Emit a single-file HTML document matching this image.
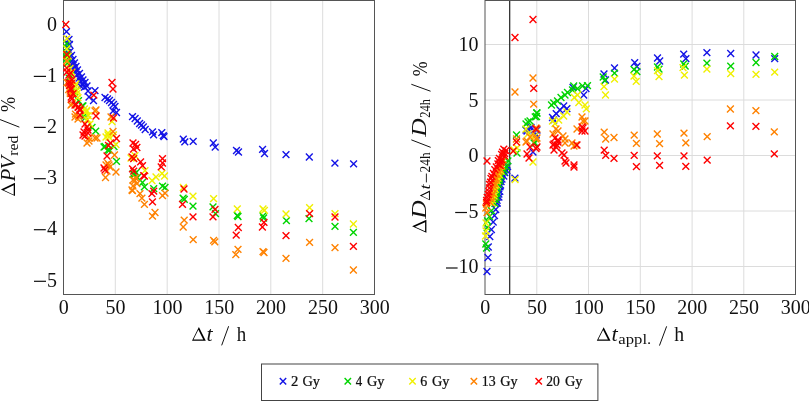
<!DOCTYPE html>
<html><head><meta charset="utf-8"><style>
html,body{margin:0;padding:0;background:#fff;}
body{width:809px;height:401px;overflow:hidden;position:relative;font-family:"Liberation Serif",serif;}
svg{position:absolute;left:0;top:0;will-change:transform;}
text{font-family:"Liberation Serif",serif;fill:#111;}
</style></head><body>
<svg width="809" height="401" viewBox="0 0 809 401">
<g stroke="#dcdcdc" stroke-width="1"><line x1="115.3" y1="0.5" x2="115.3" y2="294" /><line x1="167.2" y1="0.5" x2="167.2" y2="294" /><line x1="219.0" y1="0.5" x2="219.0" y2="294" /><line x1="270.8" y1="0.5" x2="270.8" y2="294" /><line x1="322.7" y1="0.5" x2="322.7" y2="294" /><line x1="536.8" y1="0.5" x2="536.8" y2="294" /><line x1="588.5" y1="0.5" x2="588.5" y2="294" /><line x1="640.3" y1="0.5" x2="640.3" y2="294" /><line x1="692.1" y1="0.5" x2="692.1" y2="294" /><line x1="743.8" y1="0.5" x2="743.8" y2="294" /><line x1="485" y1="44.5" x2="795.5" y2="44.5" /><line x1="485" y1="100.0" x2="795.5" y2="100.0" /><line x1="485" y1="155.5" x2="795.5" y2="155.5" /><line x1="485" y1="211.0" x2="795.5" y2="211.0" /><line x1="485" y1="266.5" x2="795.5" y2="266.5" /></g>
<line x1="509.7" y1="0.5" x2="509.7" y2="294.5" stroke="#222" stroke-width="1.2"/>
<rect x="63.5" y="0.5" width="311" height="294" fill="none" stroke="#555" stroke-width="1"/>
<rect x="485" y="0.5" width="310.5" height="294" fill="none" stroke="#555" stroke-width="1"/>
<g fill="none" stroke-width="1.4"><path d="M63.1 28.3L69.9 35.1M63.1 35.1L69.9 28.3" stroke="#1414e6"/><path d="M65.6 36.1L72.4 42.9M65.6 42.9L72.4 36.1" stroke="#1414e6"/><path d="M64.2 40.1L71.0 46.9M64.2 46.9L71.0 40.1" stroke="#1414e6"/><path d="M66.1 41.1L72.9 47.9M66.1 47.9L72.9 41.1" stroke="#1414e6"/><path d="M64.6 44.6L71.4 51.4M64.6 51.4L71.4 44.6" stroke="#1414e6"/><path d="M66.6 48.1L73.4 54.9M66.6 54.9L73.4 48.1" stroke="#1414e6"/><path d="M68.1 52.1L74.9 58.9M68.1 58.9L74.9 52.1" stroke="#1414e6"/><path d="M69.6 56.1L76.4 62.9M69.6 62.9L76.4 56.1" stroke="#1414e6"/><path d="M71.1 59.6L77.9 66.4M71.1 66.4L77.9 59.6" stroke="#1414e6"/><path d="M72.6 63.1L79.4 69.9M72.6 69.9L79.4 63.1" stroke="#1414e6"/><path d="M74.1 66.6L80.9 73.4M74.1 73.4L80.9 66.6" stroke="#1414e6"/><path d="M76.1 70.1L82.9 76.9M76.1 76.9L82.9 70.1" stroke="#1414e6"/><path d="M78.1 73.6L84.9 80.4M78.1 80.4L84.9 73.6" stroke="#1414e6"/><path d="M79.6 76.6L86.4 83.4M79.6 83.4L86.4 76.6" stroke="#1414e6"/><path d="M81.6 79.1L88.4 85.9M81.6 85.9L88.4 79.1" stroke="#1414e6"/><path d="M79.6 81.6L86.4 88.4M79.6 88.4L86.4 81.6" stroke="#1414e6"/><path d="M83.6 82.6L90.4 89.4M83.6 89.4L90.4 82.6" stroke="#1414e6"/><path d="M84.6 87.6L91.4 94.4M84.6 94.4L91.4 87.6" stroke="#1414e6"/><path d="M91.6 87.3L98.4 94.1M91.6 94.1L98.4 87.3" stroke="#1414e6"/><path d="M90.1 97.1L96.9 103.9M90.1 103.9L96.9 97.1" stroke="#1414e6"/><path d="M101.6 94.1L108.4 100.9M101.6 100.9L108.4 94.1" stroke="#1414e6"/><path d="M104.1 95.6L110.9 102.4M104.1 102.4L110.9 95.6" stroke="#1414e6"/><path d="M106.1 97.1L112.9 103.9M106.1 103.9L112.9 97.1" stroke="#1414e6"/><path d="M108.1 99.1L114.9 105.9M108.1 105.9L114.9 99.1" stroke="#1414e6"/><path d="M110.1 101.1L116.9 107.9M110.1 107.9L116.9 101.1" stroke="#1414e6"/><path d="M111.6 103.1L118.4 109.9M111.6 109.9L118.4 103.1" stroke="#1414e6"/><path d="M109.6 107.6L116.4 114.4M109.6 114.4L116.4 107.6" stroke="#1414e6"/><path d="M113.1 109.1L119.9 115.9M113.1 115.9L119.9 109.1" stroke="#1414e6"/><path d="M129.1 113.2L135.9 120.0M129.1 120.0L135.9 113.2" stroke="#1414e6"/><path d="M131.7 115.1L138.5 121.9M131.7 121.9L138.5 115.1" stroke="#1414e6"/><path d="M133.9 117.6L140.7 124.4M133.9 124.4L140.7 117.6" stroke="#1414e6"/><path d="M136.2 120.1L143.0 126.9M136.2 126.9L143.0 120.1" stroke="#1414e6"/><path d="M138.1 121.6L144.9 128.4M138.1 128.4L144.9 121.6" stroke="#1414e6"/><path d="M139.9 123.6L146.7 130.4M139.9 130.4L146.7 123.6" stroke="#1414e6"/><path d="M141.8 126.1L148.6 132.9M141.8 132.9L148.6 126.1" stroke="#1414e6"/><path d="M149.1 128.4L155.9 135.2M149.1 135.2L155.9 128.4" stroke="#1414e6"/><path d="M150.2 131.4L157.0 138.2M150.2 138.2L157.0 131.4" stroke="#1414e6"/><path d="M158.4 129.2L165.2 136.0M158.4 136.0L165.2 129.2" stroke="#1414e6"/><path d="M159.9 132.2L166.7 139.0M159.9 139.0L166.7 132.2" stroke="#1414e6"/><path d="M160.6 133.3L167.4 140.1M160.6 140.1L167.4 133.3" stroke="#1414e6"/><path d="M179.9 135.8L186.7 142.6M179.9 142.6L186.7 135.8" stroke="#1414e6"/><path d="M181.4 138.4L188.2 145.2M181.4 145.2L188.2 138.4" stroke="#1414e6"/><path d="M189.8 137.9L196.6 144.7M189.8 144.7L196.6 137.9" stroke="#1414e6"/><path d="M209.9 139.6L216.7 146.4M209.9 146.4L216.7 139.6" stroke="#1414e6"/><path d="M211.8 143.8L218.6 150.6M211.8 150.6L218.6 143.8" stroke="#1414e6"/><path d="M233.1 147.1L239.9 153.9M233.1 153.9L239.9 147.1" stroke="#1414e6"/><path d="M235.1 148.6L241.9 155.4M235.1 155.4L241.9 148.6" stroke="#1414e6"/><path d="M259.2 146.0L266.0 152.8M259.2 152.8L266.0 146.0" stroke="#1414e6"/><path d="M261.1 150.1L267.9 156.9M261.1 156.9L267.9 150.1" stroke="#1414e6"/><path d="M282.6 151.2L289.4 158.0M282.6 158.0L289.4 151.2" stroke="#1414e6"/><path d="M305.9 153.6L312.7 160.4M305.9 160.4L312.7 153.6" stroke="#1414e6"/><path d="M331.5 159.8L338.3 166.6M331.5 166.6L338.3 159.8" stroke="#1414e6"/><path d="M350.2 160.5L357.0 167.3M350.2 167.3L357.0 160.5" stroke="#1414e6"/><path d="M64.1 49.3L70.9 56.1M64.1 56.1L70.9 49.3" stroke="#1414e6"/><path d="M65.6 53.3L72.4 60.1M65.6 60.1L72.4 53.3" stroke="#1414e6"/><path d="M67.1 57.3L73.9 64.1M67.1 64.1L73.9 57.3" stroke="#1414e6"/><path d="M68.6 60.8L75.4 67.6M68.6 67.6L75.4 60.8" stroke="#1414e6"/><path d="M70.1 64.3L76.9 71.1M70.1 71.1L76.9 64.3" stroke="#1414e6"/><path d="M71.6 67.8L78.4 74.6M71.6 74.6L78.4 67.8" stroke="#1414e6"/><path d="M73.6 71.3L80.4 78.1M73.6 78.1L80.4 71.3" stroke="#1414e6"/><path d="M75.6 74.8L82.4 81.6M75.6 81.6L82.4 74.8" stroke="#1414e6"/><path d="M77.1 77.8L83.9 84.6M77.1 84.6L83.9 77.8" stroke="#1414e6"/><path d="M79.1 80.3L85.9 87.1M79.1 87.1L85.9 80.3" stroke="#1414e6"/><path d="M77.1 82.8L83.9 89.6M77.1 89.6L83.9 82.8" stroke="#1414e6"/><path d="M81.1 83.8L87.9 90.6M81.1 90.6L87.9 83.8" stroke="#1414e6"/><path d="M85.6 93.6L92.4 100.4M85.6 100.4L92.4 93.6" stroke="#1414e6"/><path d="M71.6 88.3L78.4 95.1M71.6 95.1L78.4 88.3" stroke="#00d400"/><path d="M75.1 97.3L81.9 104.1M75.1 104.1L81.9 97.3" stroke="#00d400"/><path d="M78.8 102.6L85.6 109.4M78.8 109.4L85.6 102.6" stroke="#00d400"/><path d="M81.0 112.3L87.8 119.1M81.0 119.1L87.8 112.3" stroke="#00d400"/><path d="M63.4 40.4L70.2 47.2M63.4 47.2L70.2 40.4" stroke="#00d400"/><path d="M63.4 44.6L70.2 51.4M63.4 51.4L70.2 44.6" stroke="#00d400"/><path d="M63.4 52.8L70.2 59.6M63.4 59.6L70.2 52.8" stroke="#00d400"/><path d="M63.4 50.1L70.2 56.9M63.4 56.9L70.2 50.1" stroke="#00d400"/><path d="M63.4 55.1L70.2 61.9M63.4 61.9L70.2 55.1" stroke="#00d400"/><path d="M64.1 59.6L70.9 66.4M64.1 66.4L70.9 59.6" stroke="#00d400"/><path d="M65.8 74.7L72.6 81.5M65.8 81.5L72.6 74.7" stroke="#00d400"/><path d="M67.2 72.2L74.0 79.0M67.2 79.0L74.0 72.2" stroke="#00d400"/><path d="M70.3 84.7L77.1 91.5M70.3 91.5L77.1 84.7" stroke="#00d400"/><path d="M71.0 88.5L77.8 95.3M71.0 95.3L77.8 88.5" stroke="#00d400"/><path d="M79.6 102.6L86.4 109.4M79.6 109.4L86.4 102.6" stroke="#00d400"/><path d="M81.6 114.6L88.4 121.4M81.6 121.4L88.4 114.6" stroke="#00d400"/><path d="M100.6 143.6L107.4 150.4M100.6 150.4L107.4 143.6" stroke="#00d400"/><path d="M104.6 146.6L111.4 153.4M104.6 153.4L111.4 146.6" stroke="#00d400"/><path d="M101.6 143.1L108.4 149.9M101.6 149.9L108.4 143.1" stroke="#00d400"/><path d="M106.1 146.6L112.9 153.4M106.1 153.4L112.9 146.6" stroke="#00d400"/><path d="M110.6 143.1L117.4 149.9M110.6 149.9L117.4 143.1" stroke="#00d400"/><path d="M129.6 170.6L136.4 177.4M129.6 177.4L136.4 170.6" stroke="#00d400"/><path d="M132.8 169.1L139.6 175.9M132.8 175.9L139.6 169.1" stroke="#00d400"/><path d="M131.0 171.0L137.8 177.8M131.0 177.8L137.8 171.0" stroke="#00d400"/><path d="M134.1 174.1L140.9 180.9M134.1 180.9L140.9 174.1" stroke="#00d400"/><path d="M139.1 179.1L145.9 185.9M139.1 185.9L145.9 179.1" stroke="#00d400"/><path d="M141.0 183.5L147.8 190.3M141.0 190.3L147.8 183.5" stroke="#00d400"/><path d="M150.3 185.3L157.1 192.1M150.3 192.1L157.1 185.3" stroke="#00d400"/><path d="M159.1 182.8L165.9 189.6M159.1 189.6L165.9 182.8" stroke="#00d400"/><path d="M161.6 184.1L168.4 190.9M161.6 190.9L168.4 184.1" stroke="#00d400"/><path d="M179.7 194.7L186.5 201.5M179.7 201.5L186.5 194.7" stroke="#00d400"/><path d="M180.9 195.9L187.7 202.7M180.9 202.7L187.7 195.9" stroke="#00d400"/><path d="M189.6 202.8L196.4 209.6M189.6 209.6L196.4 202.8" stroke="#00d400"/><path d="M209.6 203.4L216.4 210.2M209.6 210.2L216.4 203.4" stroke="#00d400"/><path d="M212.1 210.2L218.9 217.0M212.1 217.0L218.9 210.2" stroke="#00d400"/><path d="M233.9 212.1L240.7 218.9M233.9 218.9L240.7 212.1" stroke="#00d400"/><path d="M234.6 213.1L241.4 219.9M234.6 219.9L241.4 213.1" stroke="#00d400"/><path d="M259.6 212.6L266.4 219.4M259.6 219.4L266.4 212.6" stroke="#00d400"/><path d="M260.2 214.6L267.0 221.4M260.2 221.4L267.0 214.6" stroke="#00d400"/><path d="M283.0 217.2L289.8 224.0M283.0 224.0L289.8 217.2" stroke="#00d400"/><path d="M305.6 215.2L312.4 222.0M305.6 222.0L312.4 215.2" stroke="#00d400"/><path d="M331.6 223.0L338.4 229.8M331.6 229.8L338.4 223.0" stroke="#00d400"/><path d="M350.0 229.0L356.8 235.8M350.0 235.8L356.8 229.0" stroke="#00d400"/><path d="M88.6 124.1L95.4 130.9M88.6 130.9L95.4 124.1" stroke="#00d400"/><path d="M92.3 127.8L99.1 134.6M92.3 134.6L99.1 127.8" stroke="#00d400"/><path d="M113.1 157.9L119.9 164.7M113.1 164.7L119.9 157.9" stroke="#00d400"/><path d="M73.8 89.8L80.6 96.6M73.8 96.6L80.6 89.8" stroke="#f0f000"/><path d="M74.6 94.3L81.4 101.1M74.6 101.1L81.4 94.3" stroke="#f0f000"/><path d="M83.3 107.0L90.1 113.8M83.3 113.8L90.1 107.0" stroke="#f0f000"/><path d="M81.0 105.6L87.8 112.4M81.0 112.4L87.8 105.6" stroke="#f0f000"/><path d="M72.6 80.6L79.4 87.4M72.6 87.4L79.4 80.6" stroke="#f0f000"/><path d="M63.5 35.2L70.3 42.0M63.5 42.0L70.3 35.2" stroke="#f0f000"/><path d="M63.4 45.6L70.2 52.4M63.4 52.4L70.2 45.6" stroke="#f0f000"/><path d="M65.0 52.8L71.8 59.6M65.0 59.6L71.8 52.8" stroke="#f0f000"/><path d="M63.6 57.6L70.4 64.4M63.6 64.4L70.4 57.6" stroke="#f0f000"/><path d="M66.6 65.1L73.4 71.9M66.6 71.9L73.4 65.1" stroke="#f0f000"/><path d="M67.2 70.3L74.0 77.1M67.2 77.1L74.0 70.3" stroke="#f0f000"/><path d="M68.5 68.8L75.3 75.6M68.5 75.6L75.3 68.8" stroke="#f0f000"/><path d="M69.7 78.5L76.5 85.3M69.7 85.3L76.5 78.5" stroke="#f0f000"/><path d="M71.6 82.8L78.4 89.6M71.6 89.6L78.4 82.8" stroke="#f0f000"/><path d="M73.5 87.2L80.3 94.0M73.5 94.0L80.3 87.2" stroke="#f0f000"/><path d="M82.6 108.6L89.4 115.4M82.6 115.4L89.4 108.6" stroke="#f0f000"/><path d="M83.6 116.6L90.4 123.4M83.6 123.4L90.4 116.6" stroke="#f0f000"/><path d="M86.6 120.6L93.4 127.4M86.6 127.4L93.4 120.6" stroke="#f0f000"/><path d="M102.6 133.6L109.4 140.4M102.6 140.4L109.4 133.6" stroke="#f0f000"/><path d="M104.6 131.6L111.4 138.4M104.6 138.4L111.4 131.6" stroke="#f0f000"/><path d="M108.6 118.1L115.4 124.9M108.6 124.9L115.4 118.1" stroke="#f0f000"/><path d="M104.6 129.6L111.4 136.4M104.6 136.4L111.4 129.6" stroke="#f0f000"/><path d="M105.6 133.6L112.4 140.4M105.6 140.4L112.4 133.6" stroke="#f0f000"/><path d="M110.1 131.6L116.9 138.4M110.1 138.4L116.9 131.6" stroke="#f0f000"/><path d="M112.6 141.1L119.4 147.9M112.6 147.9L119.4 141.1" stroke="#f0f000"/><path d="M127.6 154.6L134.4 161.4M127.6 161.4L134.4 154.6" stroke="#f0f000"/><path d="M131.6 152.2L138.4 159.0M131.6 159.0L138.4 152.2" stroke="#f0f000"/><path d="M130.3 154.6L137.1 161.4M130.3 161.4L137.1 154.6" stroke="#f0f000"/><path d="M141.6 167.2L148.4 174.0M141.6 174.0L148.4 167.2" stroke="#f0f000"/><path d="M179.9 184.1L186.7 190.9M179.9 190.9L186.7 184.1" stroke="#f0f000"/><path d="M189.6 192.8L196.4 199.6M189.6 199.6L196.4 192.8" stroke="#f0f000"/><path d="M210.2 195.3L217.0 202.1M210.2 202.1L217.0 195.3" stroke="#f0f000"/><path d="M233.9 205.5L240.7 212.3M233.9 212.3L240.7 205.5" stroke="#f0f000"/><path d="M259.6 205.6L266.4 212.4M259.6 212.4L266.4 205.6" stroke="#f0f000"/><path d="M261.0 207.0L267.8 213.8M261.0 213.8L267.8 207.0" stroke="#f0f000"/><path d="M282.6 210.6L289.4 217.4M282.6 217.4L289.4 210.6" stroke="#f0f000"/><path d="M306.2 204.2L313.0 211.0M306.2 211.0L313.0 204.2" stroke="#f0f000"/><path d="M331.6 210.2L338.4 217.0M331.6 217.0L338.4 210.2" stroke="#f0f000"/><path d="M350.0 220.6L356.8 227.4M350.0 227.4L356.8 220.6" stroke="#f0f000"/><path d="M158.6 170.1L165.4 176.9M158.6 176.9L165.4 170.1" stroke="#f0f000"/><path d="M161.1 172.6L167.9 179.4M161.1 179.4L167.9 172.6" stroke="#f0f000"/><path d="M152.6 173.6L159.4 180.4M152.6 180.4L159.4 173.6" stroke="#f0f000"/><path d="M148.6 177.1L155.4 183.9M148.6 183.9L155.4 177.1" stroke="#f0f000"/><path d="M83.1 107.8L89.9 114.6M83.1 114.6L89.9 107.8" stroke="#f0f000"/><path d="M84.8 112.3L91.6 119.1M84.8 119.1L91.6 112.3" stroke="#f0f000"/><path d="M84.3 116.3L91.1 123.1M84.3 123.1L91.1 116.3" stroke="#f0f000"/><path d="M65.3 86.1L72.1 92.9M65.3 92.9L72.1 86.1" stroke="#ff8200"/><path d="M66.8 89.8L73.6 96.6M66.8 96.6L73.6 89.8" stroke="#ff8200"/><path d="M67.6 101.8L74.4 108.6M67.6 108.6L74.4 101.8" stroke="#ff8200"/><path d="M72.1 110.8L78.9 117.6M72.1 117.6L78.9 110.8" stroke="#ff8200"/><path d="M75.1 113.0L81.9 119.8M75.1 119.8L81.9 113.0" stroke="#ff8200"/><path d="M63.4 57.6L70.2 64.4M63.4 64.4L70.2 57.6" stroke="#ff8200"/><path d="M63.6 79.1L70.4 85.9M63.6 85.9L70.4 79.1" stroke="#ff8200"/><path d="M67.2 77.2L74.0 84.0M67.2 84.0L74.0 77.2" stroke="#ff8200"/><path d="M66.7 87.8L73.5 94.6M66.7 94.6L73.5 87.8" stroke="#ff8200"/><path d="M67.2 90.3L74.0 97.1M67.2 97.1L74.0 90.3" stroke="#ff8200"/><path d="M68.6 100.6L75.4 107.4M68.6 107.4L75.4 100.6" stroke="#ff8200"/><path d="M71.6 113.6L78.4 120.4M71.6 120.4L78.4 113.6" stroke="#ff8200"/><path d="M74.6 115.6L81.4 122.4M74.6 122.4L81.4 115.6" stroke="#ff8200"/><path d="M91.6 107.6L98.4 114.4M91.6 114.4L98.4 107.6" stroke="#ff8200"/><path d="M85.6 134.6L92.4 141.4M85.6 141.4L92.4 134.6" stroke="#ff8200"/><path d="M91.6 134.6L98.4 141.4M91.6 141.4L98.4 134.6" stroke="#ff8200"/><path d="M85.6 137.6L92.4 144.4M85.6 144.4L92.4 137.6" stroke="#ff8200"/><path d="M83.6 139.6L90.4 146.4M83.6 146.4L90.4 139.6" stroke="#ff8200"/><path d="M102.6 161.6L109.4 168.4M102.6 168.4L109.4 161.6" stroke="#ff8200"/><path d="M92.6 106.6L99.4 113.4M92.6 113.4L99.4 106.6" stroke="#ff8200"/><path d="M107.6 113.6L114.4 120.4M107.6 120.4L114.4 113.6" stroke="#ff8200"/><path d="M109.6 128.1L116.4 134.9M109.6 134.9L116.4 128.1" stroke="#ff8200"/><path d="M93.6 134.6L100.4 141.4M93.6 141.4L100.4 134.6" stroke="#ff8200"/><path d="M111.1 151.6L117.9 158.4M111.1 158.4L117.9 151.6" stroke="#ff8200"/><path d="M104.6 160.1L111.4 166.9M104.6 166.9L111.4 160.1" stroke="#ff8200"/><path d="M105.6 161.6L112.4 168.4M105.6 168.4L112.4 161.6" stroke="#ff8200"/><path d="M106.6 163.6L113.4 170.4M106.6 170.4L113.4 163.6" stroke="#ff8200"/><path d="M103.6 167.6L110.4 174.4M103.6 174.4L110.4 167.6" stroke="#ff8200"/><path d="M112.6 168.6L119.4 175.4M112.6 175.4L119.4 168.6" stroke="#ff8200"/><path d="M102.1 174.1L108.9 180.9M102.1 180.9L108.9 174.1" stroke="#ff8200"/><path d="M129.6 176.6L136.4 183.4M129.6 183.4L136.4 176.6" stroke="#ff8200"/><path d="M128.6 186.6L135.4 193.4M128.6 193.4L135.4 186.6" stroke="#ff8200"/><path d="M129.6 182.6L136.4 189.4M129.6 189.4L136.4 182.6" stroke="#ff8200"/><path d="M132.2 174.6L139.0 181.4M132.2 181.4L139.0 174.6" stroke="#ff8200"/><path d="M131.6 177.2L138.4 184.0M131.6 184.0L138.4 177.2" stroke="#ff8200"/><path d="M133.5 180.3L140.3 187.1M133.5 187.1L140.3 180.3" stroke="#ff8200"/><path d="M129.1 187.2L135.9 194.0M129.1 194.0L135.9 187.2" stroke="#ff8200"/><path d="M136.6 190.3L143.4 197.1M136.6 197.1L143.4 190.3" stroke="#ff8200"/><path d="M138.5 194.7L145.3 201.5M138.5 201.5L145.3 194.7" stroke="#ff8200"/><path d="M141.0 201.0L147.8 207.8M141.0 207.8L147.8 201.0" stroke="#ff8200"/><path d="M159.1 192.2L165.9 199.0M159.1 199.0L165.9 192.2" stroke="#ff8200"/><path d="M161.6 189.7L168.4 196.5M161.6 196.5L168.4 189.7" stroke="#ff8200"/><path d="M151.6 209.1L158.4 215.9M151.6 215.9L158.4 209.1" stroke="#ff8200"/><path d="M149.1 212.8L155.9 219.6M149.1 219.6L155.9 212.8" stroke="#ff8200"/><path d="M180.8 216.8L187.6 223.6M180.8 223.6L187.6 216.8" stroke="#ff8200"/><path d="M179.8 223.6L186.6 230.4M179.8 230.4L186.6 223.6" stroke="#ff8200"/><path d="M189.8 236.3L196.6 243.1M189.8 243.1L196.6 236.3" stroke="#ff8200"/><path d="M210.2 237.0L217.0 243.8M210.2 243.8L217.0 237.0" stroke="#ff8200"/><path d="M211.4 238.5L218.2 245.3M211.4 245.3L218.2 238.5" stroke="#ff8200"/><path d="M234.6 246.0L241.4 252.8M234.6 252.8L241.4 246.0" stroke="#ff8200"/><path d="M232.4 251.2L239.2 258.0M232.4 258.0L239.2 251.2" stroke="#ff8200"/><path d="M259.6 248.2L266.4 255.0M259.6 255.0L266.4 248.2" stroke="#ff8200"/><path d="M260.6 249.1L267.4 255.9M260.6 255.9L267.4 249.1" stroke="#ff8200"/><path d="M282.6 255.0L289.4 261.8M282.6 261.8L289.4 255.0" stroke="#ff8200"/><path d="M306.2 239.0L313.0 245.8M306.2 245.8L313.0 239.0" stroke="#ff8200"/><path d="M331.6 244.2L338.4 251.0M331.6 251.0L338.4 244.2" stroke="#ff8200"/><path d="M350.0 266.6L356.8 273.4M350.0 273.4L356.8 266.6" stroke="#ff8200"/><path d="M67.6 86.1L74.4 92.9M67.6 92.9L74.4 86.1" stroke="#ff0000"/><path d="M67.8 93.6L74.6 100.4M67.8 100.4L74.6 93.6" stroke="#ff0000"/><path d="M68.3 95.8L75.1 102.6M68.3 102.6L75.1 95.8" stroke="#ff0000"/><path d="M72.8 101.1L79.6 107.9M72.8 107.9L79.6 101.1" stroke="#ff0000"/><path d="M75.1 104.0L81.9 110.8M75.1 110.8L81.9 104.0" stroke="#ff0000"/><path d="M76.6 107.0L83.4 113.8M76.6 113.8L83.4 107.0" stroke="#ff0000"/><path d="M68.6 76.6L75.4 83.4M68.6 83.4L75.4 76.6" stroke="#ff0000"/><path d="M62.4 21.1L69.2 27.9M62.4 27.9L69.2 21.1" stroke="#ff0000"/><path d="M63.4 51.1L70.2 57.9M63.4 57.9L70.2 51.1" stroke="#ff0000"/><path d="M63.4 64.6L70.2 71.4M63.4 71.4L70.2 64.6" stroke="#ff0000"/><path d="M63.6 68.6L70.4 75.4M63.6 75.4L70.4 68.6" stroke="#ff0000"/><path d="M65.5 71.6L72.3 78.4M65.5 78.4L72.3 71.6" stroke="#ff0000"/><path d="M67.3 69.6L74.1 76.4M67.3 76.4L74.1 69.6" stroke="#ff0000"/><path d="M65.5 79.1L72.3 85.9M65.5 85.9L72.3 79.1" stroke="#ff0000"/><path d="M68.0 80.0L74.8 86.8M68.0 86.8L74.8 80.0" stroke="#ff0000"/><path d="M66.1 82.2L72.9 89.0M66.1 89.0L72.9 82.2" stroke="#ff0000"/><path d="M67.3 85.3L74.1 92.1M67.3 92.1L74.1 85.3" stroke="#ff0000"/><path d="M69.7 90.3L76.5 97.1M69.7 97.1L76.5 90.3" stroke="#ff0000"/><path d="M71.6 101.6L78.4 108.4M71.6 108.4L78.4 101.6" stroke="#ff0000"/><path d="M74.6 103.6L81.4 110.4M74.6 110.4L81.4 103.6" stroke="#ff0000"/><path d="M76.6 105.6L83.4 112.4M76.6 112.4L83.4 105.6" stroke="#ff0000"/><path d="M76.6 111.6L83.4 118.4M76.6 118.4L83.4 111.6" stroke="#ff0000"/><path d="M81.6 120.6L88.4 127.4M81.6 127.4L88.4 120.6" stroke="#ff0000"/><path d="M83.6 123.6L90.4 130.4M83.6 130.4L90.4 123.6" stroke="#ff0000"/><path d="M80.6 128.6L87.4 135.4M80.6 135.4L87.4 128.6" stroke="#ff0000"/><path d="M79.6 131.6L86.4 138.4M79.6 138.4L86.4 131.6" stroke="#ff0000"/><path d="M84.6 126.6L91.4 133.4M84.6 133.4L91.4 126.6" stroke="#ff0000"/><path d="M84.6 129.6L91.4 136.4M84.6 136.4L91.4 129.6" stroke="#ff0000"/><path d="M81.6 132.6L88.4 139.4M81.6 139.4L88.4 132.6" stroke="#ff0000"/><path d="M90.4 91.8L97.2 98.6M90.4 98.6L97.2 91.8" stroke="#ff0000"/><path d="M92.6 112.6L99.4 119.4M92.6 119.4L99.4 112.6" stroke="#ff0000"/><path d="M103.6 152.6L110.4 159.4M103.6 159.4L110.4 152.6" stroke="#ff0000"/><path d="M100.6 164.6L107.4 171.4M100.6 171.4L107.4 164.6" stroke="#ff0000"/><path d="M108.6 79.1L115.4 85.9M108.6 85.9L115.4 79.1" stroke="#ff0000"/><path d="M109.6 85.6L116.4 92.4M109.6 92.4L116.4 85.6" stroke="#ff0000"/><path d="M110.1 114.6L116.9 121.4M110.1 121.4L116.9 114.6" stroke="#ff0000"/><path d="M113.1 135.1L119.9 141.9M113.1 141.9L119.9 135.1" stroke="#ff0000"/><path d="M105.1 142.1L111.9 148.9M105.1 148.9L111.9 142.1" stroke="#ff0000"/><path d="M107.1 139.6L113.9 146.4M107.1 146.4L113.9 139.6" stroke="#ff0000"/><path d="M101.6 166.6L108.4 173.4M101.6 173.4L108.4 166.6" stroke="#ff0000"/><path d="M129.6 139.6L136.4 146.4M129.6 146.4L136.4 139.6" stroke="#ff0000"/><path d="M130.1 145.6L136.9 152.4M130.1 152.4L136.9 145.6" stroke="#ff0000"/><path d="M128.6 153.6L135.4 160.4M128.6 160.4L135.4 153.6" stroke="#ff0000"/><path d="M132.2 141.0L139.0 147.8M132.2 147.8L139.0 141.0" stroke="#ff0000"/><path d="M133.5 144.1L140.3 150.9M133.5 150.9L140.3 144.1" stroke="#ff0000"/><path d="M130.3 155.3L137.1 162.1M130.3 162.1L137.1 155.3" stroke="#ff0000"/><path d="M137.2 158.5L144.0 165.3M137.2 165.3L144.0 158.5" stroke="#ff0000"/><path d="M139.1 162.2L145.9 169.0M139.1 169.0L145.9 162.2" stroke="#ff0000"/><path d="M129.1 165.4L135.9 172.2M129.1 172.2L135.9 165.4" stroke="#ff0000"/><path d="M141.0 172.8L147.8 179.6M141.0 179.6L147.8 172.8" stroke="#ff0000"/><path d="M159.1 155.3L165.9 162.1M159.1 162.1L165.9 155.3" stroke="#ff0000"/><path d="M159.1 159.6L165.9 166.4M159.1 166.4L165.9 159.6" stroke="#ff0000"/><path d="M157.8 163.5L164.6 170.3M157.8 170.3L164.6 163.5" stroke="#ff0000"/><path d="M130.3 167.8L137.1 174.6M130.3 174.6L137.1 167.8" stroke="#ff0000"/><path d="M140.3 172.2L147.1 179.0M140.3 179.0L147.1 172.2" stroke="#ff0000"/><path d="M150.3 187.8L157.1 194.6M150.3 194.6L157.1 187.8" stroke="#ff0000"/><path d="M148.5 190.3L155.3 197.1M148.5 197.1L155.3 190.3" stroke="#ff0000"/><path d="M149.1 198.5L155.9 205.3M149.1 205.3L155.9 198.5" stroke="#ff0000"/><path d="M180.6 185.6L187.4 192.4M180.6 192.4L187.4 185.6" stroke="#ff0000"/><path d="M179.1 200.9L185.9 207.7M179.1 207.7L185.9 200.9" stroke="#ff0000"/><path d="M189.6 213.4L196.4 220.2M189.6 220.2L196.4 213.4" stroke="#ff0000"/><path d="M211.6 205.9L218.4 212.7M211.6 212.7L218.4 205.9" stroke="#ff0000"/><path d="M209.6 213.4L216.4 220.2M209.6 220.2L216.4 213.4" stroke="#ff0000"/><path d="M234.9 224.1L241.7 230.9M234.9 230.9L241.7 224.1" stroke="#ff0000"/><path d="M232.8 231.8L239.6 238.6M232.8 238.6L239.6 231.8" stroke="#ff0000"/><path d="M260.6 219.0L267.4 225.8M260.6 225.8L267.4 219.0" stroke="#ff0000"/><path d="M259.0 223.6L265.8 230.4M259.0 230.4L265.8 223.6" stroke="#ff0000"/><path d="M282.6 232.2L289.4 239.0M282.6 239.0L289.4 232.2" stroke="#ff0000"/><path d="M306.2 210.2L313.0 217.0M306.2 217.0L313.0 210.2" stroke="#ff0000"/><path d="M331.6 213.6L338.4 220.4M331.6 220.4L338.4 213.6" stroke="#ff0000"/><path d="M350.0 243.0L356.8 249.8M350.0 249.8L356.8 243.0" stroke="#ff0000"/><path d="M484.6 254.1L491.4 260.9M484.6 260.9L491.4 254.1" stroke="#1414e6"/><path d="M483.6 268.1L490.4 274.9M483.6 274.9L490.4 268.1" stroke="#1414e6"/><path d="M511.5 174.7L518.3 181.5M511.5 181.5L518.3 174.7" stroke="#1414e6"/><path d="M522.6 126.6L529.4 133.4M522.6 133.4L529.4 126.6" stroke="#1414e6"/><path d="M526.6 127.6L533.4 134.4M526.6 134.4L533.4 127.6" stroke="#1414e6"/><path d="M533.6 126.6L540.4 133.4M533.6 133.4L540.4 126.6" stroke="#1414e6"/><path d="M532.6 131.6L539.4 138.4M532.6 138.4L539.4 131.6" stroke="#1414e6"/><path d="M523.6 127.6L530.4 134.4M523.6 134.4L530.4 127.6" stroke="#1414e6"/><path d="M532.6 131.1L539.4 137.9M532.6 137.9L539.4 131.1" stroke="#1414e6"/><path d="M527.6 124.1L534.4 130.9M527.6 130.9L534.4 124.1" stroke="#1414e6"/><path d="M529.6 148.6L536.4 155.4M529.6 155.4L536.4 148.6" stroke="#1414e6"/><path d="M600.6 70.6L607.4 77.4M600.6 77.4L607.4 70.6" stroke="#1414e6"/><path d="M602.1 76.6L608.9 83.4M602.1 83.4L608.9 76.6" stroke="#1414e6"/><path d="M611.1 64.6L617.9 71.4M611.1 71.4L617.9 64.6" stroke="#1414e6"/><path d="M631.3 59.3L638.1 66.1M631.3 66.1L638.1 59.3" stroke="#1414e6"/><path d="M633.5 63.1L640.3 69.9M633.5 69.9L640.3 63.1" stroke="#1414e6"/><path d="M654.1 54.6L660.9 61.4M654.1 61.4L660.9 54.6" stroke="#1414e6"/><path d="M656.3 57.6L663.1 64.4M656.3 64.4L663.1 57.6" stroke="#1414e6"/><path d="M680.3 50.8L687.1 57.6M680.3 57.6L687.1 50.8" stroke="#1414e6"/><path d="M682.5 55.3L689.3 62.1M682.5 62.1L689.3 55.3" stroke="#1414e6"/><path d="M703.5 49.3L710.3 56.1M703.5 56.1L710.3 49.3" stroke="#1414e6"/><path d="M727.3 50.1L734.1 56.9M727.3 56.9L734.1 50.1" stroke="#1414e6"/><path d="M752.6 51.6L759.4 58.4M752.6 58.4L759.4 51.6" stroke="#1414e6"/><path d="M771.3 55.3L778.1 62.1M771.3 62.1L778.1 55.3" stroke="#1414e6"/><path d="M504.2 163.1L511.0 169.9M504.2 169.9L511.0 163.1" stroke="#1414e6"/><path d="M503.4 167.2L510.2 174.0M503.4 174.0L510.2 167.2" stroke="#1414e6"/><path d="M501.4 169.1L508.2 175.9M501.4 175.9L508.2 169.1" stroke="#1414e6"/><path d="M500.4 172.8L507.2 179.6M500.4 179.6L507.2 172.8" stroke="#1414e6"/><path d="M498.6 175.7L505.4 182.5M498.6 182.5L505.4 175.7" stroke="#1414e6"/><path d="M497.7 178.2L504.5 185.0M497.7 185.0L504.5 178.2" stroke="#1414e6"/><path d="M497.2 181.6L504.0 188.4M497.2 188.4L504.0 181.6" stroke="#1414e6"/><path d="M496.6 183.4L503.4 190.2M496.6 190.2L503.4 183.4" stroke="#1414e6"/><path d="M496.4 187.9L503.2 194.7M496.4 194.7L503.2 187.9" stroke="#1414e6"/><path d="M495.5 190.8L502.3 197.6M495.5 197.6L502.3 190.8" stroke="#1414e6"/><path d="M495.5 193.8L502.3 200.6M495.5 200.6L502.3 193.8" stroke="#1414e6"/><path d="M493.7 196.9L500.5 203.7M493.7 203.7L500.5 196.9" stroke="#1414e6"/><path d="M493.7 199.6L500.5 206.4M493.7 206.4L500.5 199.6" stroke="#1414e6"/><path d="M569.6 84.1L576.4 90.9M569.6 90.9L576.4 84.1" stroke="#1414e6"/><path d="M582.6 85.3L589.4 92.1M582.6 92.1L589.4 85.3" stroke="#1414e6"/><path d="M580.3 91.6L587.1 98.4M580.3 98.4L587.1 91.6" stroke="#1414e6"/><path d="M560.3 102.6L567.1 109.4M560.3 109.4L567.1 102.6" stroke="#1414e6"/><path d="M563.5 105.3L570.3 112.1M563.5 112.1L570.3 105.3" stroke="#1414e6"/><path d="M552.8 110.3L559.6 117.1M552.8 117.1L559.6 110.3" stroke="#1414e6"/><path d="M549.1 114.1L555.9 120.9M549.1 120.9L555.9 114.1" stroke="#1414e6"/><path d="M550.3 116.6L557.1 123.4M550.3 123.4L557.1 116.6" stroke="#1414e6"/><path d="M556.6 106.6L563.4 113.4M556.6 113.4L563.4 106.6" stroke="#1414e6"/><path d="M493.6 199.6L500.4 206.4M493.6 206.4L500.4 199.6" stroke="#1414e6"/><path d="M492.3 206.1L499.1 212.9M492.3 212.9L499.1 206.1" stroke="#1414e6"/><path d="M491.1 212.1L497.9 218.9M491.1 218.9L497.9 212.1" stroke="#1414e6"/><path d="M489.8 218.6L496.6 225.4M489.8 225.4L496.6 218.6" stroke="#1414e6"/><path d="M488.0 226.1L494.8 232.9M488.0 232.9L494.8 226.1" stroke="#1414e6"/><path d="M486.4 233.1L493.2 239.9M486.4 239.9L493.2 233.1" stroke="#1414e6"/><path d="M484.9 243.6L491.7 250.4M484.9 250.4L491.7 243.6" stroke="#1414e6"/><path d="M513.1 131.6L519.9 138.4M513.1 138.4L519.9 131.6" stroke="#00d400"/><path d="M513.6 149.6L520.4 156.4M513.6 156.4L520.4 149.6" stroke="#00d400"/><path d="M530.6 139.6L537.4 146.4M530.6 146.4L537.4 139.6" stroke="#00d400"/><path d="M531.6 139.6L538.4 146.4M531.6 146.4L538.4 139.6" stroke="#00d400"/><path d="M533.6 109.6L540.4 116.4M533.6 116.4L540.4 109.6" stroke="#00d400"/><path d="M533.1 113.1L539.9 119.9M533.1 119.9L539.9 113.1" stroke="#00d400"/><path d="M524.6 118.6L531.4 125.4M524.6 125.4L531.4 118.6" stroke="#00d400"/><path d="M522.6 120.6L529.4 127.4M522.6 127.4L529.4 120.6" stroke="#00d400"/><path d="M526.6 117.6L533.4 124.4M526.6 124.4L533.4 117.6" stroke="#00d400"/><path d="M533.3 109.6L540.1 116.4M533.3 116.4L540.1 109.6" stroke="#00d400"/><path d="M531.8 113.5L538.6 120.3M531.8 120.3L538.6 113.5" stroke="#00d400"/><path d="M599.8 73.6L606.6 80.4M599.8 80.4L606.6 73.6" stroke="#00d400"/><path d="M601.3 77.3L608.1 84.1M601.3 84.1L608.1 77.3" stroke="#00d400"/><path d="M611.1 69.8L617.9 76.6M611.1 76.6L617.9 69.8" stroke="#00d400"/><path d="M630.6 66.1L637.4 72.9M630.6 72.9L637.4 66.1" stroke="#00d400"/><path d="M633.5 68.3L640.3 75.1M633.5 75.1L640.3 68.3" stroke="#00d400"/><path d="M654.1 63.6L660.9 70.4M654.1 70.4L660.9 63.6" stroke="#00d400"/><path d="M655.6 65.8L662.4 72.6M655.6 72.6L662.4 65.8" stroke="#00d400"/><path d="M680.3 60.6L687.1 67.4M680.3 67.4L687.1 60.6" stroke="#00d400"/><path d="M681.8 62.8L688.6 69.6M681.8 69.6L688.6 62.8" stroke="#00d400"/><path d="M703.5 59.8L710.3 66.6M703.5 66.6L710.3 59.8" stroke="#00d400"/><path d="M727.3 62.8L734.1 69.6M727.3 69.6L734.1 62.8" stroke="#00d400"/><path d="M752.6 59.1L759.4 65.9M752.6 65.9L759.4 59.1" stroke="#00d400"/><path d="M771.3 53.1L778.1 59.9M771.3 59.9L778.1 53.1" stroke="#00d400"/><path d="M504.5 157.4L511.3 164.2M504.5 164.2L511.3 157.4" stroke="#00d400"/><path d="M502.9 159.8L509.7 166.6M502.9 166.6L509.7 159.8" stroke="#00d400"/><path d="M502.7 163.2L509.5 170.0M502.7 170.0L509.5 163.2" stroke="#00d400"/><path d="M501.0 166.2L507.8 173.0M501.0 173.0L507.8 166.2" stroke="#00d400"/><path d="M499.9 168.7L506.7 175.5M499.9 175.5L506.7 168.7" stroke="#00d400"/><path d="M497.9 172.8L504.7 179.6M497.9 179.6L504.7 172.8" stroke="#00d400"/><path d="M496.2 175.2L503.0 182.0M496.2 182.0L503.0 175.2" stroke="#00d400"/><path d="M496.2 177.6L503.0 184.4M496.2 184.4L503.0 177.6" stroke="#00d400"/><path d="M495.2 180.6L502.0 187.4M495.2 187.4L502.0 180.6" stroke="#00d400"/><path d="M493.9 183.6L500.7 190.4M493.9 190.4L500.7 183.6" stroke="#00d400"/><path d="M493.4 187.2L500.2 194.0M493.4 194.0L500.2 187.2" stroke="#00d400"/><path d="M493.6 190.1L500.4 196.9M493.6 196.9L500.4 190.1" stroke="#00d400"/><path d="M493.0 193.6L499.8 200.4M493.0 200.4L499.8 193.6" stroke="#00d400"/><path d="M492.0 196.3L498.8 203.1M492.0 203.1L498.8 196.3" stroke="#00d400"/><path d="M491.4 199.9L498.2 206.7M491.4 206.7L498.2 199.9" stroke="#00d400"/><path d="M550.3 99.6L557.1 106.4M550.3 106.4L557.1 99.6" stroke="#00d400"/><path d="M554.1 97.6L560.9 104.4M554.1 104.4L560.9 97.6" stroke="#00d400"/><path d="M557.6 94.1L564.4 100.9M557.6 100.9L564.4 94.1" stroke="#00d400"/><path d="M561.6 91.6L568.4 98.4M561.6 98.4L568.4 91.6" stroke="#00d400"/><path d="M564.1 89.1L570.9 95.9M564.1 95.9L570.9 89.1" stroke="#00d400"/><path d="M570.3 82.6L577.1 89.4M570.3 89.4L577.1 82.6" stroke="#00d400"/><path d="M574.1 85.3L580.9 92.1M574.1 92.1L580.9 85.3" stroke="#00d400"/><path d="M579.1 82.6L585.9 89.4M579.1 89.4L585.9 82.6" stroke="#00d400"/><path d="M584.1 82.2L590.9 89.0M584.1 89.0L590.9 82.2" stroke="#00d400"/><path d="M569.1 86.6L575.9 93.4M569.1 93.4L575.9 86.6" stroke="#00d400"/><path d="M548.1 101.6L554.9 108.4M548.1 108.4L554.9 101.6" stroke="#00d400"/><path d="M488.0 207.2L494.8 214.0M488.0 214.0L494.8 207.2" stroke="#00d400"/><path d="M486.1 213.1L492.9 219.9M486.1 219.9L492.9 213.1" stroke="#00d400"/><path d="M484.1 217.6L490.9 224.4M484.1 224.4L490.9 217.6" stroke="#00d400"/><path d="M483.8 224.1L490.6 230.9M483.8 230.9L490.6 224.1" stroke="#00d400"/><path d="M482.4 240.6L489.2 247.4M482.4 247.4L489.2 240.6" stroke="#00d400"/><path d="M483.1 244.6L489.9 251.4M483.1 251.4L489.9 244.6" stroke="#00d400"/><path d="M511.7 176.2L518.5 183.0M511.7 183.0L518.5 176.2" stroke="#f0f000"/><path d="M513.6 144.6L520.4 151.4M513.6 151.4L520.4 144.6" stroke="#f0f000"/><path d="M510.6 146.6L517.4 153.4M510.6 153.4L517.4 146.6" stroke="#f0f000"/><path d="M522.6 125.6L529.4 132.4M522.6 132.4L529.4 125.6" stroke="#f0f000"/><path d="M524.6 130.6L531.4 137.4M524.6 137.4L531.4 130.6" stroke="#f0f000"/><path d="M531.6 132.6L538.4 139.4M531.6 139.4L538.4 132.6" stroke="#f0f000"/><path d="M527.6 132.6L534.4 139.4M527.6 139.4L534.4 132.6" stroke="#f0f000"/><path d="M529.6 158.6L536.4 165.4M529.6 165.4L536.4 158.6" stroke="#f0f000"/><path d="M600.6 83.3L607.4 90.1M600.6 90.1L607.4 83.3" stroke="#f0f000"/><path d="M602.1 91.6L608.9 98.4M602.1 98.4L608.9 91.6" stroke="#f0f000"/><path d="M611.1 75.8L617.9 82.6M611.1 82.6L617.9 75.8" stroke="#f0f000"/><path d="M630.6 72.8L637.4 79.6M630.6 79.6L637.4 72.8" stroke="#f0f000"/><path d="M632.8 78.0L639.6 84.8M632.8 84.8L639.6 78.0" stroke="#f0f000"/><path d="M654.1 67.3L660.9 74.1M654.1 74.1L660.9 67.3" stroke="#f0f000"/><path d="M655.6 73.3L662.4 80.1M655.6 80.1L662.4 73.3" stroke="#f0f000"/><path d="M679.6 64.3L686.4 71.1M679.6 71.1L686.4 64.3" stroke="#f0f000"/><path d="M681.0 71.8L687.8 78.6M681.0 78.6L687.8 71.8" stroke="#f0f000"/><path d="M703.5 65.8L710.3 72.6M703.5 72.6L710.3 65.8" stroke="#f0f000"/><path d="M727.3 70.3L734.1 77.1M727.3 77.1L734.1 70.3" stroke="#f0f000"/><path d="M752.6 71.0L759.4 77.8M752.6 77.8L759.4 71.0" stroke="#f0f000"/><path d="M771.3 68.8L778.1 75.6M771.3 75.6L778.1 68.8" stroke="#f0f000"/><path d="M497.6 167.7L504.4 174.5M497.6 174.5L504.4 167.7" stroke="#f0f000"/><path d="M495.9 171.5L502.7 178.3M495.9 178.3L502.7 171.5" stroke="#f0f000"/><path d="M494.6 174.7L501.4 181.5M494.6 181.5L501.4 174.7" stroke="#f0f000"/><path d="M493.9 177.7L500.7 184.5M493.9 184.5L500.7 177.7" stroke="#f0f000"/><path d="M492.9 181.3L499.7 188.1M492.9 188.1L499.7 181.3" stroke="#f0f000"/><path d="M491.6 182.5L498.4 189.3M491.6 189.3L498.4 182.5" stroke="#f0f000"/><path d="M491.9 186.0L498.7 192.8M491.9 192.8L498.7 186.0" stroke="#f0f000"/><path d="M490.8 190.0L497.6 196.8M490.8 196.8L497.6 190.0" stroke="#f0f000"/><path d="M490.7 192.7L497.5 199.5M490.7 199.5L497.5 192.7" stroke="#f0f000"/><path d="M489.1 196.4L495.9 203.2M489.1 203.2L495.9 196.4" stroke="#f0f000"/><path d="M488.8 199.7L495.6 206.5M488.8 206.5L495.6 199.7" stroke="#f0f000"/><path d="M571.0 94.1L577.8 100.9M571.0 100.9L577.8 94.1" stroke="#f0f000"/><path d="M575.4 99.1L582.2 105.9M575.4 105.9L582.2 99.1" stroke="#f0f000"/><path d="M581.6 101.6L588.4 108.4M581.6 108.4L588.4 101.6" stroke="#f0f000"/><path d="M582.9 105.4L589.7 112.2M582.9 112.2L589.7 105.4" stroke="#f0f000"/><path d="M574.1 91.6L580.9 98.4M574.1 98.4L580.9 91.6" stroke="#f0f000"/><path d="M560.3 112.6L567.1 119.4M560.3 119.4L567.1 112.6" stroke="#f0f000"/><path d="M555.3 116.6L562.1 123.4M555.3 123.4L562.1 116.6" stroke="#f0f000"/><path d="M551.6 120.3L558.4 127.1M551.6 127.1L558.4 120.3" stroke="#f0f000"/><path d="M549.1 117.6L555.9 124.4M549.1 124.4L555.9 117.6" stroke="#f0f000"/><path d="M563.6 108.6L570.4 115.4M563.6 115.4L570.4 108.6" stroke="#f0f000"/><path d="M482.6 219.6L489.4 226.4M482.6 226.4L489.4 219.6" stroke="#f0f000"/><path d="M482.6 227.6L489.4 234.4M482.6 234.4L489.4 227.6" stroke="#f0f000"/><path d="M482.1 232.6L488.9 239.4M482.1 239.4L488.9 232.6" stroke="#f0f000"/><path d="M513.1 135.6L519.9 142.4M513.1 142.4L519.9 135.6" stroke="#ff8200"/><path d="M511.6 88.6L518.4 95.4M511.6 95.4L518.4 88.6" stroke="#ff8200"/><path d="M529.6 74.6L536.4 81.4M529.6 81.4L536.4 74.6" stroke="#ff8200"/><path d="M530.3 100.8L537.1 107.6M530.3 107.6L537.1 100.8" stroke="#ff8200"/><path d="M533.6 125.6L540.4 132.4M533.6 132.4L540.4 125.6" stroke="#ff8200"/><path d="M526.6 133.6L533.4 140.4M526.6 140.4L533.4 133.6" stroke="#ff8200"/><path d="M522.6 138.6L529.4 145.4M522.6 145.4L529.4 138.6" stroke="#ff8200"/><path d="M533.6 134.6L540.4 141.4M533.6 141.4L540.4 134.6" stroke="#ff8200"/><path d="M532.6 124.6L539.4 131.4M532.6 131.4L539.4 124.6" stroke="#ff8200"/><path d="M523.6 137.6L530.4 144.4M523.6 144.4L530.4 137.6" stroke="#ff8200"/><path d="M532.6 135.6L539.4 142.4M532.6 142.4L539.4 135.6" stroke="#ff8200"/><path d="M552.6 125.6L559.4 132.4M552.6 132.4L559.4 125.6" stroke="#ff8200"/><path d="M554.6 127.6L561.4 134.4M554.6 134.4L561.4 127.6" stroke="#ff8200"/><path d="M549.6 130.6L556.4 137.4M549.6 137.4L556.4 130.6" stroke="#ff8200"/><path d="M559.6 132.6L566.4 139.4M559.6 139.4L566.4 132.6" stroke="#ff8200"/><path d="M561.6 135.6L568.4 142.4M561.6 142.4L568.4 135.6" stroke="#ff8200"/><path d="M568.6 139.6L575.4 146.4M568.6 146.4L575.4 139.6" stroke="#ff8200"/><path d="M573.6 125.6L580.4 132.4M573.6 132.4L580.4 125.6" stroke="#ff8200"/><path d="M578.6 113.6L585.4 120.4M578.6 120.4L585.4 113.6" stroke="#ff8200"/><path d="M579.6 117.6L586.4 124.4M579.6 124.4L586.4 117.6" stroke="#ff8200"/><path d="M561.6 139.6L568.4 146.4M561.6 146.4L568.4 139.6" stroke="#ff8200"/><path d="M570.6 142.6L577.4 149.4M570.6 149.4L577.4 142.6" stroke="#ff8200"/><path d="M572.6 141.6L579.4 148.4M572.6 148.4L579.4 141.6" stroke="#ff8200"/><path d="M581.6 117.6L588.4 124.4M581.6 124.4L588.4 117.6" stroke="#ff8200"/><path d="M600.8 128.8L607.6 135.6M600.8 135.6L607.6 128.8" stroke="#ff8200"/><path d="M602.3 135.6L609.1 142.4M602.3 142.4L609.1 135.6" stroke="#ff8200"/><path d="M610.6 134.1L617.4 140.9M610.6 140.9L617.4 134.1" stroke="#ff8200"/><path d="M630.8 131.8L637.6 138.6M630.8 138.6L637.6 131.8" stroke="#ff8200"/><path d="M633.0 140.0L639.8 146.8M633.0 146.8L639.8 140.0" stroke="#ff8200"/><path d="M653.9 130.6L660.7 137.4M653.9 137.4L660.7 130.6" stroke="#ff8200"/><path d="M656.2 140.2L663.0 147.0M656.2 147.0L663.0 140.2" stroke="#ff8200"/><path d="M680.6 129.8L687.4 136.6M680.6 136.6L687.4 129.8" stroke="#ff8200"/><path d="M682.4 139.4L689.2 146.2M682.4 146.2L689.2 139.4" stroke="#ff8200"/><path d="M703.8 133.2L710.6 140.0M703.8 140.0L710.6 133.2" stroke="#ff8200"/><path d="M727.0 105.6L733.8 112.4M727.0 112.4L733.8 105.6" stroke="#ff8200"/><path d="M752.5 107.2L759.3 114.0M752.5 114.0L759.3 107.2" stroke="#ff8200"/><path d="M770.9 128.5L777.7 135.3M770.9 135.3L777.7 128.5" stroke="#ff8200"/><path d="M499.8 156.4L506.6 163.2M499.8 163.2L506.6 156.4" stroke="#ff8200"/><path d="M498.5 158.9L505.3 165.7M498.5 165.7L505.3 158.9" stroke="#ff8200"/><path d="M498.4 162.6L505.2 169.4M498.4 169.4L505.2 162.6" stroke="#ff8200"/><path d="M496.9 165.6L503.7 172.4M496.9 172.4L503.7 165.6" stroke="#ff8200"/><path d="M495.6 168.3L502.4 175.1M495.6 175.1L502.4 168.3" stroke="#ff8200"/><path d="M494.0 171.1L500.8 177.9M494.0 177.9L500.8 171.1" stroke="#ff8200"/><path d="M492.7 175.0L499.5 181.8M492.7 181.8L499.5 175.0" stroke="#ff8200"/><path d="M491.9 176.7L498.7 183.5M491.9 183.5L498.7 176.7" stroke="#ff8200"/><path d="M491.2 179.9L498.0 186.7M491.2 186.7L498.0 179.9" stroke="#ff8200"/><path d="M490.2 182.6L497.0 189.4M490.2 189.4L497.0 182.6" stroke="#ff8200"/><path d="M489.5 185.6L496.3 192.4M489.5 192.4L496.3 185.6" stroke="#ff8200"/><path d="M489.6 190.2L496.4 197.0M489.6 197.0L496.4 190.2" stroke="#ff8200"/><path d="M488.1 193.0L494.9 199.8M488.1 199.8L494.9 193.0" stroke="#ff8200"/><path d="M487.5 195.1L494.3 201.9M487.5 201.9L494.3 195.1" stroke="#ff8200"/><path d="M486.8 198.9L493.6 205.7M486.8 205.7L493.6 198.9" stroke="#ff8200"/><path d="M483.0 200.6L489.8 207.4M483.0 207.4L489.8 200.6" stroke="#ff8200"/><path d="M482.4 204.6L489.2 211.4M482.4 211.4L489.2 204.6" stroke="#ff8200"/><path d="M483.6 209.1L490.4 215.9M483.6 215.9L490.4 209.1" stroke="#ff8200"/><path d="M509.8 147.6L516.6 154.4M509.8 154.4L516.6 147.6" stroke="#ff0000"/><path d="M511.6 34.1L518.4 40.9M511.6 40.9L518.4 34.1" stroke="#ff0000"/><path d="M529.6 16.1L536.4 22.9M529.6 22.9L536.4 16.1" stroke="#ff0000"/><path d="M530.3 85.0L537.1 91.8M530.3 91.8L537.1 85.0" stroke="#ff0000"/><path d="M513.1 138.6L519.9 145.4M513.1 145.4L519.9 138.6" stroke="#ff0000"/><path d="M532.6 125.6L539.4 132.4M532.6 132.4L539.4 125.6" stroke="#ff0000"/><path d="M526.6 143.6L533.4 150.4M526.6 150.4L533.4 143.6" stroke="#ff0000"/><path d="M533.6 143.6L540.4 150.4M533.6 150.4L540.4 143.6" stroke="#ff0000"/><path d="M532.6 145.1L539.4 151.9M532.6 151.9L539.4 145.1" stroke="#ff0000"/><path d="M523.6 150.6L530.4 157.4M523.6 157.4L530.4 150.6" stroke="#ff0000"/><path d="M525.6 154.6L532.4 161.4M525.6 161.4L532.4 154.6" stroke="#ff0000"/><path d="M551.6 134.6L558.4 141.4M551.6 141.4L558.4 134.6" stroke="#ff0000"/><path d="M554.6 136.6L561.4 143.4M554.6 143.4L561.4 136.6" stroke="#ff0000"/><path d="M550.6 140.6L557.4 147.4M550.6 147.4L557.4 140.6" stroke="#ff0000"/><path d="M553.6 141.6L560.4 148.4M553.6 148.4L560.4 141.6" stroke="#ff0000"/><path d="M573.6 141.6L580.4 148.4M573.6 148.4L580.4 141.6" stroke="#ff0000"/><path d="M578.6 123.6L585.4 130.4M578.6 130.4L585.4 123.6" stroke="#ff0000"/><path d="M578.6 127.6L585.4 134.4M578.6 134.4L585.4 127.6" stroke="#ff0000"/><path d="M549.6 141.6L556.4 148.4M549.6 148.4L556.4 141.6" stroke="#ff0000"/><path d="M552.6 143.6L559.4 150.4M552.6 150.4L559.4 143.6" stroke="#ff0000"/><path d="M550.6 146.6L557.4 153.4M550.6 153.4L557.4 146.6" stroke="#ff0000"/><path d="M558.6 149.6L565.4 156.4M558.6 156.4L565.4 149.6" stroke="#ff0000"/><path d="M560.6 151.6L567.4 158.4M560.6 158.4L567.4 151.6" stroke="#ff0000"/><path d="M561.6 157.6L568.4 164.4M561.6 164.4L568.4 157.6" stroke="#ff0000"/><path d="M562.6 159.6L569.4 166.4M562.6 166.4L569.4 159.6" stroke="#ff0000"/><path d="M570.6 161.6L577.4 168.4M570.6 168.4L577.4 161.6" stroke="#ff0000"/><path d="M570.6 163.6L577.4 170.4M570.6 170.4L577.4 163.6" stroke="#ff0000"/><path d="M554.6 138.6L561.4 145.4M554.6 145.4L561.4 138.6" stroke="#ff0000"/><path d="M579.6 124.6L586.4 131.4M579.6 131.4L586.4 124.6" stroke="#ff0000"/><path d="M581.6 127.6L588.4 134.4M581.6 134.4L588.4 127.6" stroke="#ff0000"/><path d="M600.8 146.8L607.6 153.6M600.8 153.6L607.6 146.8" stroke="#ff0000"/><path d="M602.3 152.0L609.1 158.8M602.3 158.8L609.1 152.0" stroke="#ff0000"/><path d="M610.6 155.0L617.4 161.8M610.6 161.8L617.4 155.0" stroke="#ff0000"/><path d="M630.8 152.0L637.6 158.8M630.8 158.8L637.6 152.0" stroke="#ff0000"/><path d="M633.0 163.2L639.8 170.0M633.0 170.0L639.8 163.2" stroke="#ff0000"/><path d="M653.9 152.4L660.7 159.2M653.9 159.2L660.7 152.4" stroke="#ff0000"/><path d="M656.2 162.0L663.0 168.8M656.2 168.8L663.0 162.0" stroke="#ff0000"/><path d="M680.6 152.4L687.4 159.2M680.6 159.2L687.4 152.4" stroke="#ff0000"/><path d="M682.4 162.9L689.2 169.7M682.4 169.7L689.2 162.9" stroke="#ff0000"/><path d="M703.8 156.8L710.6 163.6M703.8 163.6L710.6 156.8" stroke="#ff0000"/><path d="M727.0 122.5L733.8 129.3M727.0 129.3L733.8 122.5" stroke="#ff0000"/><path d="M752.5 122.9L759.3 129.7M752.5 129.7L759.3 122.9" stroke="#ff0000"/><path d="M770.9 150.5L777.7 157.3M770.9 157.3L777.7 150.5" stroke="#ff0000"/><path d="M500.4 145.7L507.2 152.5M500.4 152.5L507.2 145.7" stroke="#ff0000"/><path d="M499.1 148.7L505.9 155.5M499.1 155.5L505.9 148.7" stroke="#ff0000"/><path d="M498.2 151.1L505.0 157.9M498.2 157.9L505.0 151.1" stroke="#ff0000"/><path d="M496.0 155.0L502.8 161.8M496.0 161.8L502.8 155.0" stroke="#ff0000"/><path d="M494.9 157.3L501.7 164.1M494.9 164.1L501.7 157.3" stroke="#ff0000"/><path d="M494.5 160.6L501.3 167.4M494.5 167.4L501.3 160.6" stroke="#ff0000"/><path d="M492.9 163.6L499.7 170.4M492.9 170.4L499.7 163.6" stroke="#ff0000"/><path d="M491.4 166.2L498.2 173.0M491.4 173.0L498.2 166.2" stroke="#ff0000"/><path d="M490.0 170.0L496.8 176.8M490.0 176.8L496.8 170.0" stroke="#ff0000"/><path d="M488.5 172.9L495.3 179.7M488.5 179.7L495.3 172.9" stroke="#ff0000"/><path d="M487.6 175.1L494.4 181.9M487.6 181.9L494.4 175.1" stroke="#ff0000"/><path d="M487.1 178.7L493.9 185.5M487.1 185.5L493.9 178.7" stroke="#ff0000"/><path d="M486.0 181.0L492.8 187.8M486.0 187.8L492.8 181.0" stroke="#ff0000"/><path d="M486.0 184.6L492.8 191.4M486.0 191.4L492.8 184.6" stroke="#ff0000"/><path d="M485.4 188.1L492.2 194.9M485.4 194.9L492.2 188.1" stroke="#ff0000"/><path d="M484.8 191.1L491.6 197.9M484.8 197.9L491.6 191.1" stroke="#ff0000"/><path d="M483.8 194.0L490.6 200.8M483.8 200.8L490.6 194.0" stroke="#ff0000"/><path d="M483.2 197.1L490.0 203.9M483.2 203.9L490.0 197.1" stroke="#ff0000"/><path d="M483.2 199.1L490.0 205.9M483.2 205.9L490.0 199.1" stroke="#ff0000"/><path d="M502.5 147.2L509.3 154.0M502.5 154.0L509.3 147.2" stroke="#ff0000"/><path d="M501.3 150.2L508.1 157.0M501.3 157.0L508.1 150.2" stroke="#ff0000"/><path d="M501.3 152.6L508.1 159.4M501.3 159.4L508.1 152.6" stroke="#ff0000"/><path d="M498.4 156.5L505.2 163.3M498.4 163.3L505.2 156.5" stroke="#ff0000"/><path d="M497.6 158.8L504.4 165.6M497.6 165.6L504.4 158.8" stroke="#ff0000"/><path d="M496.8 162.1L503.6 168.9M496.8 168.9L503.6 162.1" stroke="#ff0000"/><path d="M483.6 157.6L490.4 164.4M483.6 164.4L490.4 157.6" stroke="#ff0000"/></g>
<g><text x="57.0" y="31.4" text-anchor="end" font-size="20">0</text><text x="57.0" y="81.7" text-anchor="end" font-size="20">1</text><rect x="33.8" y="75.8" width="12.2" height="1.2" fill="#111"/><text x="57.0" y="132.7" text-anchor="end" font-size="20">2</text><rect x="33.9" y="126.8" width="11.8" height="1.2" fill="#111"/><text x="57.0" y="183.9" text-anchor="end" font-size="20">3</text><rect x="33.9" y="178.1" width="11.9" height="1.2" fill="#111"/><text x="57.0" y="234.9" text-anchor="end" font-size="20">4</text><rect x="33.9" y="229.1" width="11.9" height="1.2" fill="#111"/><text x="57.0" y="286.6" text-anchor="end" font-size="20">5</text><rect x="34" y="280.7" width="12.0" height="1.2" fill="#111"/><text x="478.5" y="51.2" text-anchor="end" font-size="20">10</text><text x="478.5" y="106.8" text-anchor="end" font-size="20">5</text><text x="478.5" y="162.2" text-anchor="end" font-size="20">0</text><text x="478.5" y="217.8" text-anchor="end" font-size="20">5</text><rect x="455.2" y="211.9" width="11.8" height="1.2" fill="#111"/><text x="478.5" y="273.2" text-anchor="end" font-size="20">10</text><rect x="446" y="267.4" width="11.6" height="1.2" fill="#111"/><text x="63.7" y="314.0" text-anchor="middle" font-size="20">0</text><text x="485.2" y="314.0" text-anchor="middle" font-size="20">0</text><text x="115.5" y="314.0" text-anchor="middle" font-size="20">50</text><text x="537.0" y="314.0" text-anchor="middle" font-size="20">50</text><text x="167.4" y="314.0" text-anchor="middle" font-size="20">100</text><text x="588.7" y="314.0" text-anchor="middle" font-size="20">100</text><text x="219.2" y="314.0" text-anchor="middle" font-size="20">150</text><text x="640.5" y="314.0" text-anchor="middle" font-size="20">150</text><text x="271.0" y="314.0" text-anchor="middle" font-size="20">200</text><text x="692.3" y="314.0" text-anchor="middle" font-size="20">200</text><text x="322.9" y="314.0" text-anchor="middle" font-size="20">250</text><text x="744.0" y="314.0" text-anchor="middle" font-size="20">250</text><text x="374.7" y="314.0" text-anchor="middle" font-size="20">300</text><text x="795.8" y="314.0" text-anchor="middle" font-size="20">300</text></g>
<g><path fill-rule="evenodd" fill="#000" d="M198.90 327.10L205.80 340.80L192.00 340.80ZM198.37 329.82L193.49 339.50L203.24 339.50Z"/><text transform="translate(206.60,340.80) scale(1.100,1)" font-size="20" font-style="italic">t</text><line x1="228.5" y1="326.6" x2="221.8" y2="345.0" stroke="#111" stroke-width="1.0" stroke-linecap="round"/><text transform="translate(236.76,340.80) scale(0.947,1)" font-size="20">h</text><path fill-rule="evenodd" fill="#000" d="M603.65 327.20L610.50 340.80L596.80 340.80ZM603.12 329.92L598.29 339.50L607.94 339.50Z"/><text transform="translate(611.38,340.80) scale(1.120,1)" font-size="20" font-style="italic">t</text><text transform="translate(618.34,344.30) scale(1.111,1)" font-size="15">appl.</text><line x1="666.5" y1="326.7" x2="659.6" y2="345.2" stroke="#111" stroke-width="1.0" stroke-linecap="round"/><text transform="translate(674.25,340.80) scale(0.989,1)" font-size="20">h</text><g transform="rotate(-90)"><path fill-rule="evenodd" fill="#000" d="M-189.40 0.90L-182.70 15.00L-196.10 15.00ZM-189.93 3.75L-194.65 13.70L-185.20 13.70Z"/><text transform="translate(-181.20,15.00) scale(1.021,1)" font-size="20" font-style="italic">P</text><text transform="translate(-169.49,15.00) scale(1.092,1)" font-size="20" font-style="italic">V</text><text transform="translate(-155.66,18.30) scale(1.051,1)" font-size="15">red</text><line x1="-127.0" y1="19.0" x2="-119.7" y2="0.4" stroke="#111" stroke-width="1.0" stroke-linecap="round"/><text transform="translate(-111.88,15.40) scale(0.911,1)" font-size="20">%</text></g><g transform="rotate(-90)"><path fill-rule="evenodd" fill="#000" d="M-226.20 412.10L-219.70 426.40L-232.70 426.40ZM-226.72 415.06L-231.29 425.10L-222.16 425.10Z"/><text transform="translate(-218.68,426.40) scale(1.276,1)" font-size="20" font-style="italic">D</text><path fill-rule="evenodd" fill="#000" d="M-195.40 419.80L-190.50 429.90L-200.30 429.90ZM-195.76 421.80L-199.23 428.95L-192.29 428.95Z"/><text transform="translate(-189.59,429.90) scale(1.323,1)" font-size="14" font-style="italic">t</text><rect x="-182.4" y="425.9" width="8.9" height="0.9" fill="#111"/><text transform="translate(-172.38,429.90) scale(0.958,1)" font-size="14">24h</text><line x1="-147.2" y1="430.3" x2="-140.0" y2="411.7" stroke="#111" stroke-width="1.0" stroke-linecap="round"/><text transform="translate(-136.68,426.40) scale(1.283,1)" font-size="20" font-style="italic">D</text><text transform="translate(-117.74,429.90) scale(0.889,1)" font-size="14">24h</text><line x1="-91.1" y1="430.2" x2="-84.4" y2="411.7" stroke="#111" stroke-width="1.0" stroke-linecap="round"/><text transform="translate(-76.16,426.80) scale(0.885,1)" font-size="20">%</text></g></g>
<rect x="261.5" y="364" width="336.4" height="36.5" fill="#fff" stroke="#444" stroke-width="1"/>
<g fill="none" stroke-width="1.45"><path d="M279.8 378.0L286.2 384.4M279.8 384.4L286.2 378.0" stroke="#1414e6"/><path d="M344.6 378.0L351.0 384.4M344.6 384.4L351.0 378.0" stroke="#00d400"/><path d="M409.3 378.0L415.7 384.4M409.3 384.4L415.7 378.0" stroke="#f0f000"/><path d="M470.7 378.0L477.1 384.4M470.7 384.4L477.1 378.0" stroke="#ff8200"/><path d="M535.5 378.0L541.9 384.4M535.5 384.4L541.9 378.0" stroke="#ff0000"/></g><g stroke="#111" stroke-width="0.25"><text transform="translate(290.94,385.70) scale(1.009,1)" font-size="14.5">2</text><text transform="translate(302.51,385.70) scale(0.986,1)" font-size="14.5">Gy</text><text transform="translate(355.78,385.70) scale(0.889,1)" font-size="14.5">4</text><text transform="translate(367.01,385.70) scale(0.986,1)" font-size="14.5">Gy</text><text transform="translate(420.17,385.70) scale(0.967,1)" font-size="14.5">6</text><text transform="translate(432.01,385.70) scale(0.986,1)" font-size="14.5">Gy</text><text transform="translate(481.70,385.70) scale(0.957,1)" font-size="14.5">13</text><text transform="translate(500.31,385.70) scale(0.980,1)" font-size="14.5">Gy</text><text transform="translate(546.30,385.70) scale(0.936,1)" font-size="14.5">20</text><text transform="translate(565.01,385.70) scale(0.986,1)" font-size="14.5">Gy</text></g>
</svg>
</body></html>
